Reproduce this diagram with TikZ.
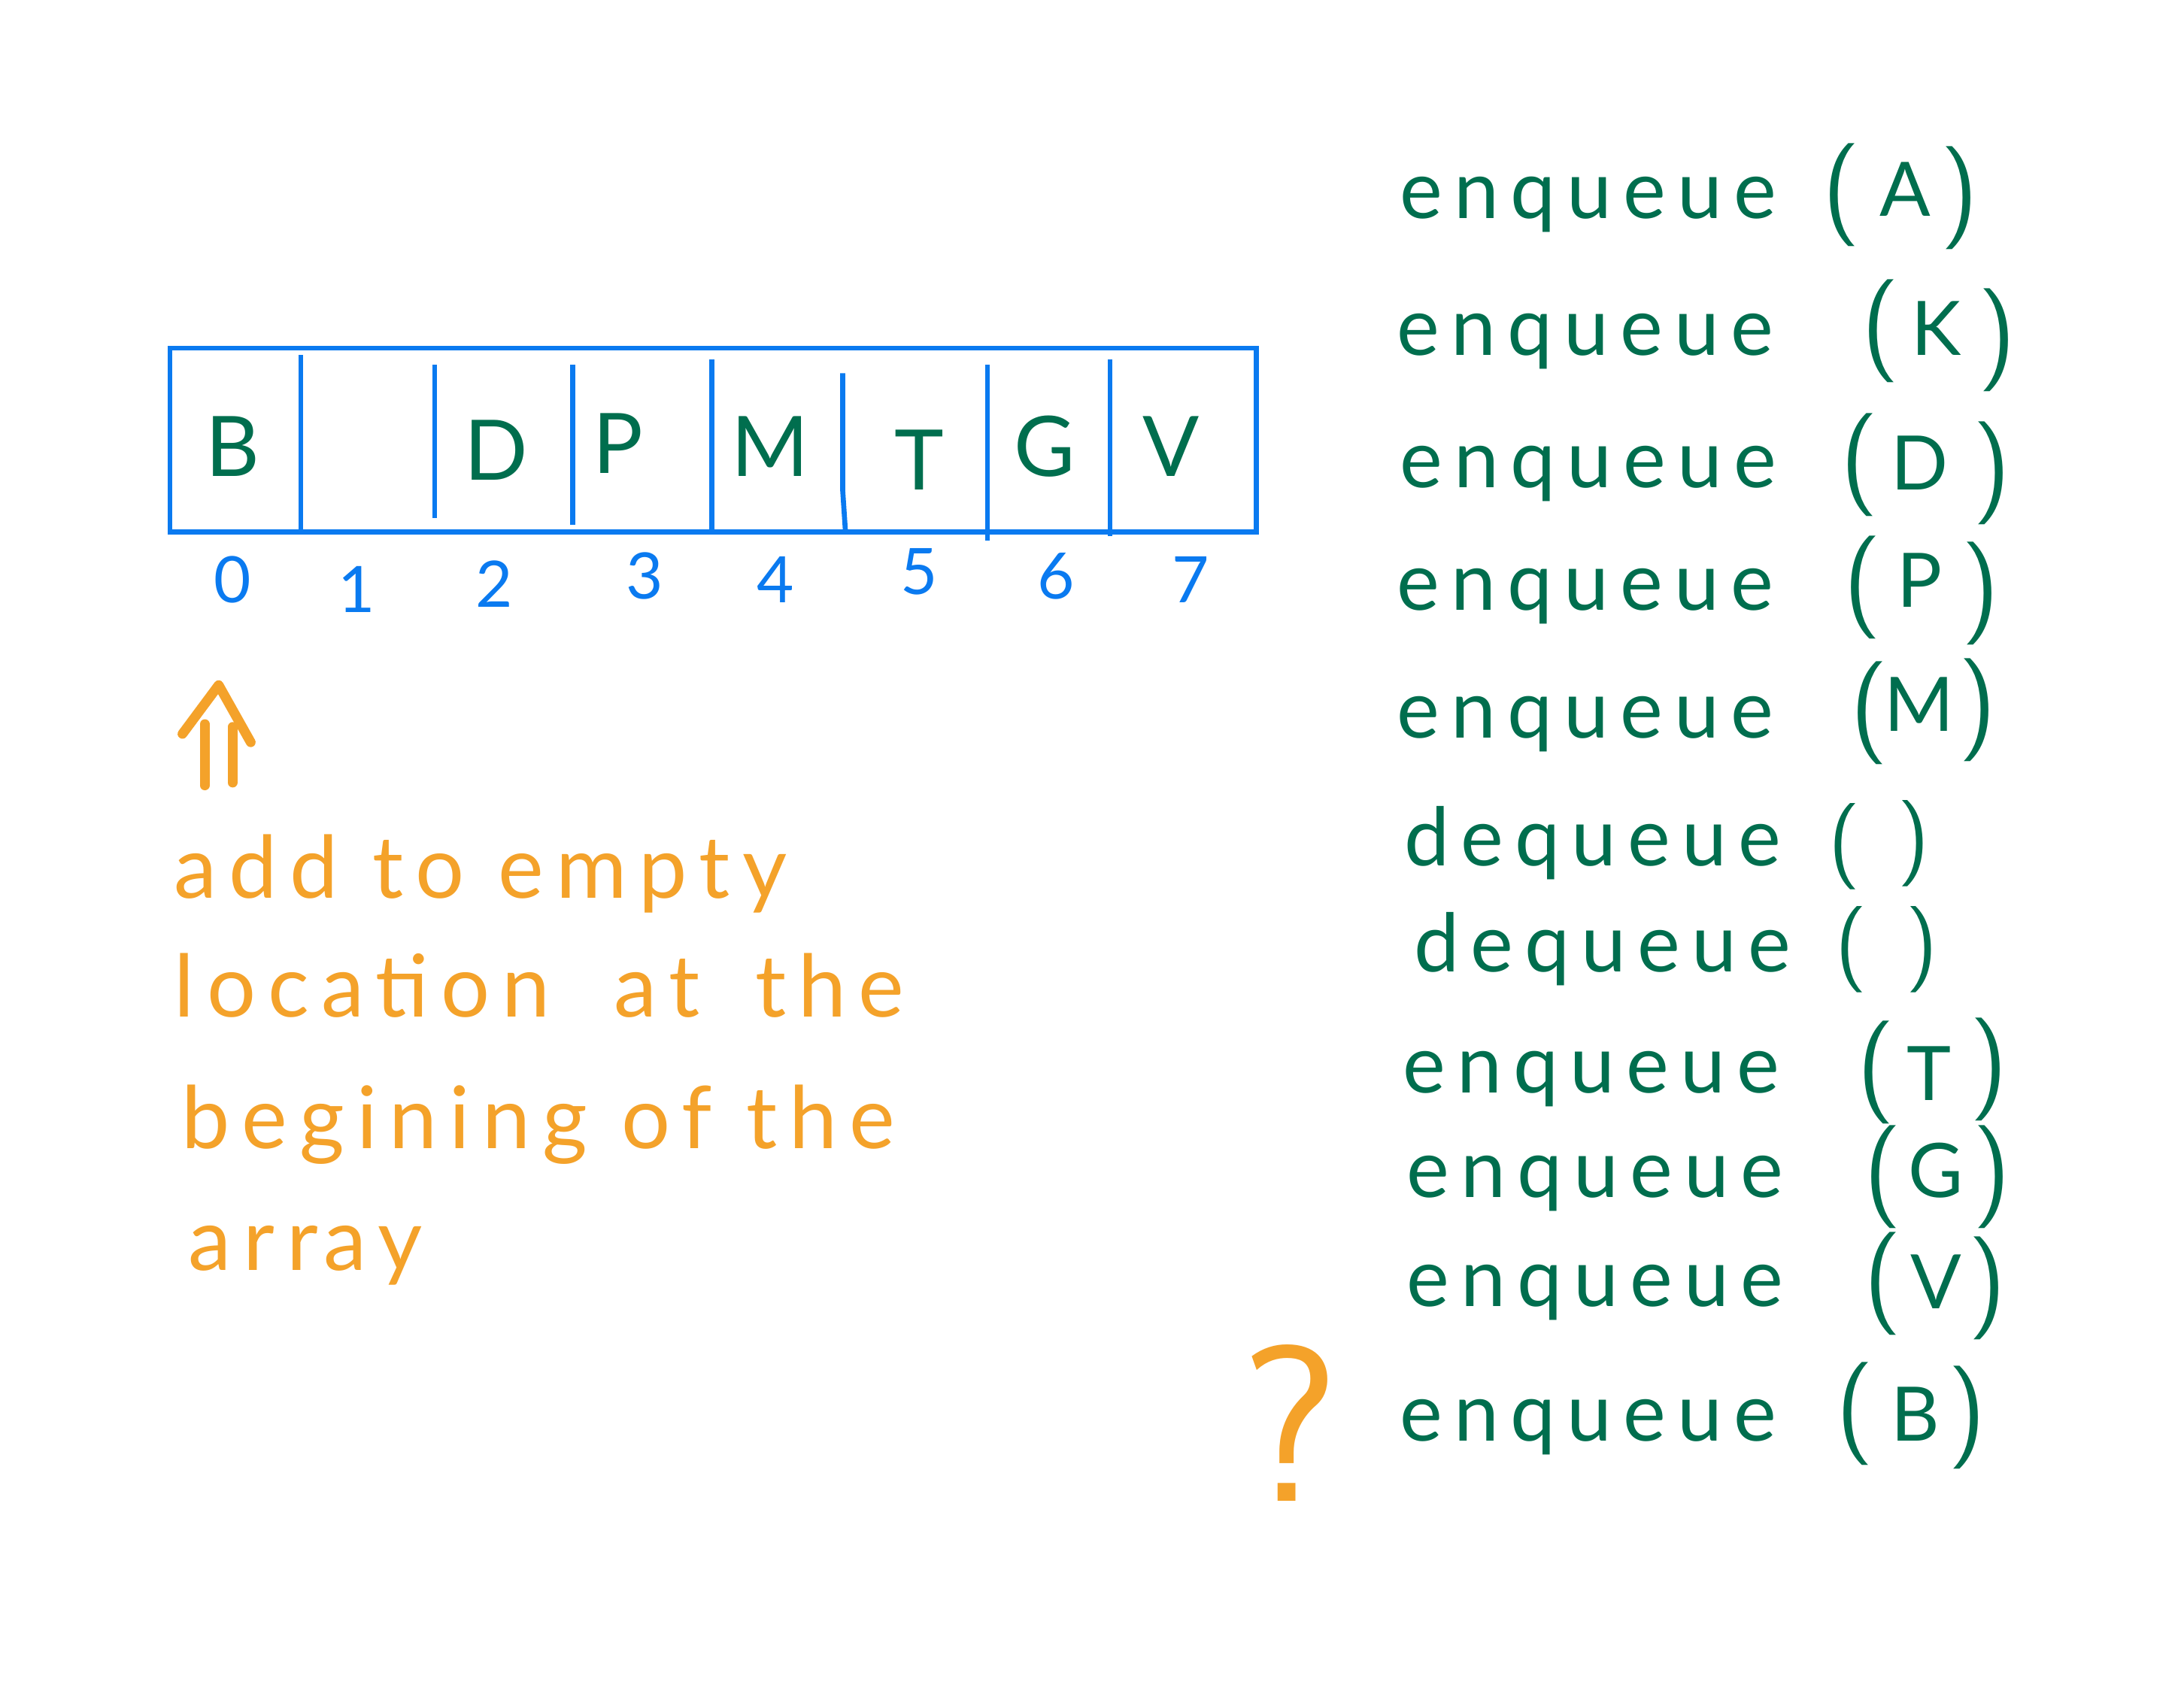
\documentclass[tikz,border=0pt]{standalone}
\usepackage{fontspec}
\setmainfont{Lato}
\newfontfamily\hand[LetterSpace=14]{Lato}
\newfontfamily\handw[LetterSpace=8]{Lato}
\definecolor{qblue}{RGB}{10,122,240}
\definecolor{qgreen}{RGB}{0,110,78}
\definecolor{qorange}{RGB}{244,162,42}
\begin{document}
\begin{tikzpicture}[x=1pt,y=-1pt,
  boxline/.style={draw=qblue,line width=3.6pt},
  opword/.style={text=qgreen,font=\hand\fontsize{58}{58}\selectfont,anchor=base west,inner sep=0pt},
  paren/.style={text=qgreen,font=\fontsize{74}{74}\selectfont\sffamily,anchor=center,inner sep=0pt},
  sparen/.style={text=qgreen,font=\fontsize{62}{62}\selectfont\sffamily,anchor=center,inner sep=0pt},
  arg/.style={text=qgreen,font=\handw\fontsize{54}{54}\selectfont,anchor=base,inner sep=0pt},
  cell/.style={text=qgreen,font=\handw\fontsize{60}{60}\selectfont,anchor=base,inner sep=0pt},
  idx/.style={text=qblue,font=\handw\fontsize{46}{46}\selectfont,anchor=base,inner sep=0pt},
  note/.style={text=qorange,font=\hand\fontsize{62}{62}\selectfont,anchor=base west,inner sep=0pt},
  orange stroke/.style={draw=qorange,line width=7pt,line cap=round,line join=round}]
\path[use as bounding box,fill=white] (0,0) rectangle (1568,1212);

% array box
\draw[boxline] (122,250) rectangle (902,382);
\draw[boxline] (216,255) -- (216,382);
\draw[boxline] (312,262) -- (312,372);
\draw[boxline] (411,262) -- (411,377);
\draw[boxline] (511,258) -- (511,382);
\draw[boxline] (605,268) -- (605,352) -- (607,382);
\draw[boxline] (709,262) -- (709,388);
\draw[boxline] (797,258) -- (797,385);

% cell contents
\node[cell] (c0) at (167,342) {B};
\node[cell] (c2) at (356,345) {D};
\node[cell] (c3) at (444,340) {P};
\node[cell] (c4) at (553,342) {M};
\node[cell] (c5) at (660,352) {T};
\node[cell] (c6) at (750,342) {G};
\node[cell] (c7) at (841,342) {V};

% indices
\node[idx] (i0) at (167,433) {0};
\node[idx] (i1) at (256,440) {1};
\node[idx] (i2) at (355,436) {2};
\node[idx] (i3) at (463,430) {3};
\node[idx] (i4) at (557,433) {4};
\node[idx] (i5) at (660,427) {5};
\node[idx] (i6) at (758,430) {6};
\node[idx] (i7) at (855,433) {7};

% orange arrow
\coordinate (atip) at (157,492);
\coordinate (aleft) at (131,527);
\coordinate (aright) at (180,533);
\coordinate (s1a) at (147,520);
\coordinate (s1b) at (147,564);
\coordinate (s2a) at (167,522);
\coordinate (s2b) at (167,562);
\draw[orange stroke] (aleft) -- (atip) -- (aright);
\draw[orange stroke] (s1a) -- (s1b);
\draw[orange stroke] (s2a) -- (s2b);

% orange note
\node[note] (n1) at (125,645) {add to empty};
\node[note] (n2) at (125,730) {location\hspace{46pt}at\hspace{40pt}the};
\node[note] (n3) at (130,825) {begining of the};
\node[note] (n4) at (135,912) {arr\hspace{4pt}ay};

% question mark
\node[text=qorange,font=\fontsize{160}{160}\selectfont\sffamily,anchor=base,inner sep=0pt] (qm) at (926,1078) {?};

% operations
\node[opword] (w1) at (1005,157) {enqueue};
\node[paren] (l1) at (1322,140) {(}; \node[arg] (a1) at (1368,155) {A}; \node[paren] (r1) at (1407,142) {)};

\node[opword] (w2) at (1003,255) {enqueue};
\node[paren] (l2) at (1350,238) {(}; \node[arg] (a2) at (1390,255) {K}; \node[paren] (r2) at (1434,244) {)};

\node[opword] (w3) at (1005,350) {enqueue};
\node[paren] (l3) at (1335,334) {(}; \node[arg] (a3) at (1378,352) {D}; \node[paren] (r3) at (1430,340) {)};

\node[opword] (w4) at (1003,438) {enqueue};
\node[paren] (l4) at (1337,422) {(}; \node[arg] (a4) at (1378,436) {P}; \node[paren] (r4) at (1422,426) {)};

\node[opword] (w5) at (1003,530) {enqueue};
\node[paren] (l5) at (1342,512) {(}; \node[arg] (a5) at (1378,525) {M}; \node[paren] (r5) at (1420,510) {)};

\node[opword] (w6) at (1008,622) {dequeue};
\node[sparen] (l6) at (1324,608) {(}; \node[sparen] (r6) at (1374,606) {)};

\node[opword] (w7) at (1015,698) {dequeue};
\node[sparen] (l7) at (1329,682) {(}; \node[sparen] (r7) at (1380,682) {)};

\node[opword] (w8) at (1007,785) {enqueue};
\node[paren] (l8) at (1347,770) {(}; \node[arg] (a8) at (1385,790) {T}; \node[paren] (r8) at (1428,768) {)};

\node[opword] (w9) at (1010,860) {enqueue};
\node[paren] (l9) at (1352,845) {(}; \node[arg] (a9) at (1390,860) {G}; \node[paren] (r9) at (1430,845) {)};

\node[opword] (w10) at (1010,938) {enqueue};
\node[paren] (l10) at (1352,922) {(}; \node[arg] (a10) at (1390,940) {V}; \node[paren] (r10) at (1427,925) {)};

\node[opword] (w11) at (1005,1035) {enqueue};
\node[paren] (l11) at (1332,1015) {(}; \node[arg] (a11) at (1375,1035) {B}; \node[paren] (r11) at (1412,1018) {)};
\end{tikzpicture}
\end{document}
